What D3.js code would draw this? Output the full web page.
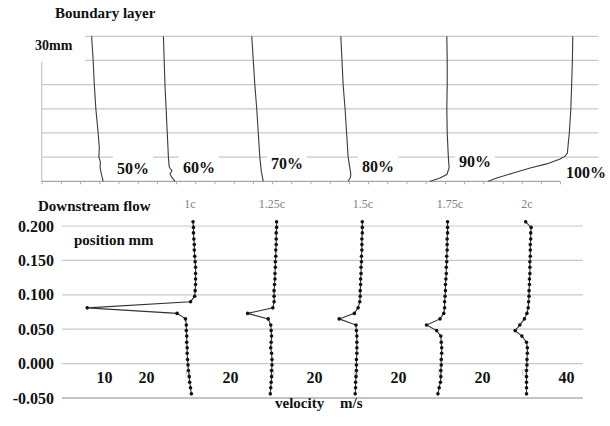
<!DOCTYPE html>
<html>
<head>
<meta charset="utf-8">
<script src="https://cdn.jsdelivr.net/npm/d3@7"></script>
<style>
  html, body { margin: 0; padding: 0; background: #fff; }
  svg { display: block; }
</style>
</head>
<body>
<svg id="chart" width="610" height="426"></svg>
<script>
// ================= DATA =================
// --- Top panel: boundary layer profiles (height mm, velocity on shared axis) ---
const topGridMm = [5, 10, 15, 20, 25, 30];
const topStations = ["50%", "60%", "70%", "80%", "90%", "100%"];
const bl50  = [[30,13.0],[25,13.4],[20,13.7],[15,14.1],[10,14.7],[7,15.0],[5,14.9],[4,15.3],[3,15.2],[2,15.4],[1,15.7],[0,16.0]];
const bl60  = [[30,31.7],[20,32.1],[15,32.4],[10,32.7],[5,33.0],[3,33.2],[2.2,33.9],[1.5,33.4],[0.8,33.9],[0,34.7]];
const bl70  = [[30,54.7],[20,55.5],[15,56.0],[10,56.4],[5,56.8],[2,57.2],[0,57.7]];
const bl80  = [[30,77.9],[20,78.5],[15,79.0],[10,79.4],[5,79.8],[1.5,80.5],[0.8,80.4],[0,79.8]];
const bl90  = [[30,105.5],[25,105.6],[20,105.6],[15,105.5],[10,105.6],[5,105.9],[2.75,106.1],[1.4,105.5],[0.7,103.7],[0.1,101.6],[0,101.1]];
const bl100 = [[30,138.3],[25,138.2],[20,138.0],[15,137.8],[10,137.4],[7.6,137.1],[5.85,136.9],[5.2,136.3],[4.6,135.0],[3.6,131.5],[2.75,127.2],[1.7,122.8],[0.7,118.5],[0,116.3]];
const topProfiles = [bl50, bl60, bl70, bl80, bl90, bl100];

// --- Bottom panel: downstream flow profiles ---
const seriesNames = ["1c", "1.25c", "1.5c", "1.75c", "2c"];
const seriesShift = [0, 20, 40, 60, 80];   // m/s origin shift of each profile
const positionsMm = [0.206, 0.198, 0.190, 0.181, 0.173, 0.165, 0.156, 0.148, 0.140, 0.131,
                     0.123, 0.115, 0.106, 0.098, 0.090, 0.081, 0.073, 0.065, 0.056, 0.048,
                     0.040, 0.031, 0.023, 0.015, 0.006, -0.002, -0.010, -0.019, -0.027, -0.035, -0.044];
const v1c   = [31.2,31.3,31.3,31.4,31.5,31.5,31.6,31.7,31.8,31.8,31.8,31.8,31.7,31.6,30.6,6.0,27.4,29.4,29.6,29.6,29.7,29.7,29.8,29.8,29.9,30.0,30.1,30.3,30.4,30.6,30.8];
const v125c = [31.1,31.1,31.0,31.0,31.0,30.9,30.9,30.8,30.8,30.7,30.7,30.6,30.5,30.5,30.5,30.2,24.2,29.1,29.7,29.8,29.9,29.8,29.7,29.9,30.0,30.0,29.9,29.9,29.8,29.7,29.6];
const v15c  = [31.5,31.5,31.5,31.4,31.4,31.4,31.3,31.3,31.2,31.2,31.1,31.1,31.0,31.0,30.9,30.5,29.6,26.0,30.0,30.1,30.2,30.2,30.2,30.2,30.1,30.1,30.1,30.0,29.9,29.9,29.8];
const v175c = [31.8,31.8,31.8,31.7,31.7,31.7,31.6,31.6,31.5,31.5,31.4,31.3,31.3,31.2,31.1,31.1,30.9,30.0,26.8,29.2,30.2,30.3,30.4,30.4,30.3,30.3,30.2,30.2,30.1,29.8,29.5];
const v2c   = [30.4,31.7,31.6,31.6,31.5,31.5,31.5,31.4,31.4,31.4,31.3,31.3,31.2,31.2,31.1,31.0,30.7,30.1,29.0,27.9,29.5,30.6,30.8,30.8,30.7,30.7,30.6,30.6,30.6,30.6,30.6];
const seriesValues = [v1c, v125c, v15c, v175c, v2c];

const yTickValues = [-0.05, 0, 0.05, 0.1, 0.15, 0.2];
const xTickValues = [10, 20, 40, 60, 80, 100, 120];
const xTickText   = ["10", "20", "20", "20", "20", "20", "40"];
const faintTickValues = [30, 50, 70, 90, 110];

// ================= LAYOUT =================
const FONT = "'Liberation Serif','Times New Roman',serif";
const stationLabelPos = [[117,174],[183,173],[271,169],[362,172],[459,167],[566,178]];
const seriesLabelX = [190, 272, 363, 450, 527];

const svg = d3.select("#chart");
svg.append("rect").attr("width", 610).attr("height", 426).attr("fill", "#fff");

// ---------- TOP PANEL ----------
const xTop = d3.scaleLinear().domain([0, 145]).range([41.7, 598.5]);
const yTop = d3.scaleLinear().domain([0, 30]).range([181.3, 36.3]);
const topG = svg.append("g");

topG.selectAll("line.grid").data(topGridMm).join("line")
  .attr("x1", xTop(0)).attr("x2", xTop(145))
  .attr("y1", d => yTop(d)).attr("y2", d => yTop(d))
  .attr("stroke", "#c8c8c8").attr("stroke-width", 1.2);

topG.append("line")
  .attr("x1", xTop(0)).attr("x2", xTop(0))
  .attr("y1", yTop(0)).attr("y2", yTop(30))
  .attr("stroke", "#c8c8c8").attr("stroke-width", 1.2);

// baseline axis with small ticks
const topAxis = topG.append("g").attr("transform", `translate(0,${yTop(0)})`)
  .call(d3.axisBottom(xTop).tickValues(d3.range(0, 136, 5)).tickSize(3).tickFormat(""));
topAxis.select(".domain").remove();
topAxis.selectAll(".tick line").attr("stroke", "#aaa");
topG.append("line")
  .attr("x1", xTop(0)).attr("x2", xTop(135))
  .attr("y1", yTop(0)).attr("y2", yTop(0))
  .attr("stroke", "#a8a8a8").attr("stroke-width", 1.2);

// white box behind the "30mm" label
topG.append("rect").attr("x", 0).attr("y", 0).attr("width", 85).attr("height", 62).attr("fill", "#fff");

// station labels with white boxes
const stG = topG.append("g");
topStations.forEach((s, i) => {
  const t = stG.append("text")
    .attr("x", stationLabelPos[i][0]).attr("y", stationLabelPos[i][1])
    .attr("font-family", FONT).attr("font-weight", "bold").attr("font-size", 16)
    .attr("fill", "#111").text(s);
  const b = t.node().getBBox();
  stG.insert("rect", "text")
    .attr("x", b.x - 4).attr("y", b.y - 5)
    .attr("width", b.width + 8).attr("height", b.height + 6)
    .attr("fill", "#fff");
});

const topLine = d3.line().x(d => xTop(d[1])).y(d => yTop(d[0]));
topG.selectAll("path.profile").data(topProfiles).join("path")
  .attr("class", "profile")
  .attr("d", topLine)
  .attr("fill", "none").attr("stroke", "#3a3a3a").attr("stroke-width", 1.1);

stG.selectAll("text").raise();

svg.append("text").attr("x", 55).attr("y", 18)
  .attr("font-family", FONT).attr("font-weight", "bold").attr("font-size", 15)
  .attr("fill", "#111").text("Boundary layer");
svg.append("text").attr("x", 35).attr("y", 50)
  .attr("font-family", FONT).attr("font-weight", "bold").attr("font-size", 14)
  .attr("fill", "#111").text("30mm");

// ---------- BOTTOM PANEL ----------
const xBot = d3.scaleLinear().domain([0, 124]).range([62, 582.8]);
const yBot = d3.scaleLinear().domain([-0.05, 0.2]).range([398, 226]);
const botG = svg.append("g");

botG.selectAll("line.grid").data(yTickValues).join("line")
  .attr("x1", xBot(0)).attr("x2", xBot(124))
  .attr("y1", d => yBot(d)).attr("y2", d => yBot(d))
  .attr("stroke", d => d === -0.05 ? "#b0b0b0" : "#c8c8c8")
  .attr("stroke-width", d => d === -0.05 ? 1.6 : 1.2);

const yAx = botG.append("g").attr("transform", "translate(54,0)")
  .call(d3.axisLeft(yBot).tickValues(yTickValues).tickSize(0).tickPadding(0).tickFormat(d => d.toFixed(3)));
yAx.select(".domain").remove();
yAx.selectAll("text").attr("font-family", FONT).attr("font-weight", "bold")
  .attr("font-size", 16).attr("fill", "#111");

const xAx = botG.append("g").attr("transform", "translate(0,372)")
  .call(d3.axisBottom(xBot).tickValues(xTickValues).tickSize(0).tickPadding(0)
    .tickFormat((d, i) => xTickText[i]));
xAx.select(".domain").remove();
xAx.selectAll("text").attr("font-family", FONT).attr("font-weight", "bold")
  .attr("font-size", 16).attr("fill", "#111");

botG.selectAll("text.faint").data(faintTickValues).join("text")
  .attr("class", "faint")
  .attr("x", d => xBot(d)).attr("y", 376).attr("text-anchor", "middle")
  .attr("font-family", FONT).attr("font-size", 10).attr("fill", "#c4c4c4").text("0");

const botLine = d3.line().x(d => d[0]).y(d => d[1]);
seriesValues.forEach((vals, i) => {
  const pts = vals.map((v, j) => [xBot(v + seriesShift[i]), yBot(positionsMm[j])]);
  botG.append("path").attr("d", botLine(pts))
    .attr("fill", "none").attr("stroke", "#333").attr("stroke-width", 1.1);
  botG.append("g").selectAll("circle").data(pts).join("circle")
    .attr("cx", d => d[0]).attr("cy", d => d[1]).attr("r", 1.8).attr("fill", "#111");
  botG.append("text").attr("x", seriesLabelX[i]).attr("y", 208).attr("text-anchor", "middle")
    .attr("font-family", FONT).attr("font-size", 12).attr("fill", "#808080").text(seriesNames[i]);
});

svg.append("text").attr("x", 38).attr("y", 211)
  .attr("font-family", FONT).attr("font-weight", "bold").attr("font-size", 15)
  .attr("fill", "#111").text("Downstream flow");
svg.append("text").attr("x", 74).attr("y", 245)
  .attr("font-family", FONT).attr("font-weight", "bold").attr("font-size", 15)
  .attr("fill", "#111").text("position mm");
svg.append("text").attr("x", 275).attr("y", 408)
  .attr("font-family", FONT).attr("font-weight", "bold").attr("font-size", 15)
  .attr("fill", "#111").text("velocity");
svg.append("text").attr("x", 340).attr("y", 408)
  .attr("font-family", FONT).attr("font-weight", "bold").attr("font-size", 15)
  .attr("fill", "#111").text("m/s");
</script>
</body>
</html>
